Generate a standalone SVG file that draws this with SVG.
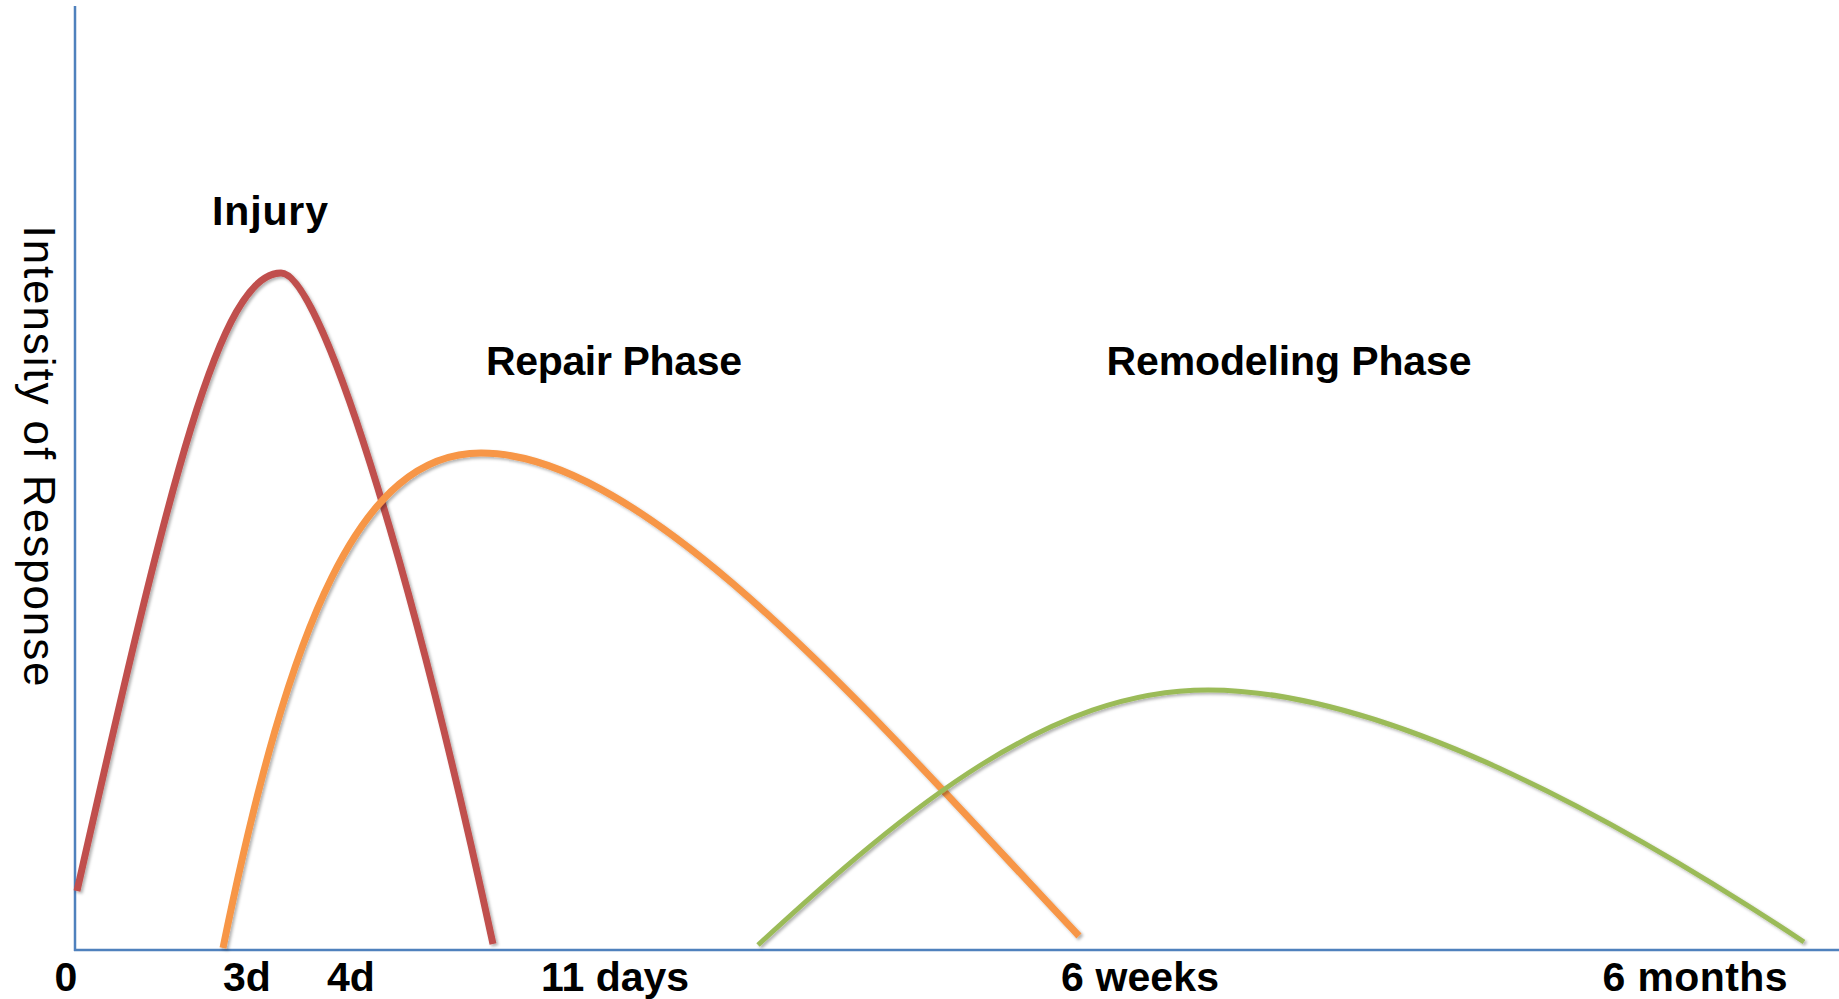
<svg xmlns="http://www.w3.org/2000/svg" width="1839" height="999" viewBox="0 0 1839 999">
<style>
.axis{stroke:#4F81BD;stroke-width:2.5;fill:none}
.curve{fill:none;stroke-linecap:butt;filter:url(#sh)}
.lbl{font-family:"Liberation Sans",Arial,sans-serif;font-weight:bold;font-size:41px;fill:#000}
.ylbl{font-family:"Liberation Sans",Arial,sans-serif;font-size:44px;fill:#000}
</style>
<defs>
<filter id="sh" x="-10%" y="-10%" width="120%" height="120%">
<feDropShadow dx="2" dy="2" stdDeviation="1.5" flood-color="#000" flood-opacity="0.3"/>
</filter>
</defs>
<rect width="1839" height="999" fill="#fff"/>
<g id="axes">
<line class="axis" x1="75" y1="6" x2="75" y2="951"/>
<line class="axis" x1="74" y1="950" x2="1839" y2="950"/>
</g>
<g id="connectors">
<path id="injury-curve" class="curve" stroke="#C0504D" stroke-width="7" d="M77,891 C170,480 220,273 281,273 C320,273 410,560 493,944"/>
<path id="repair-curve" class="curve" stroke="#F79646" stroke-width="7" d="M223,948 C290,620 360,453 481,453 C650,453 880,725 1079,936"/>
<path id="remodel-curve" class="curve" stroke="#9BBB59" stroke-width="5" d="M758,945 C910,805 1050,690 1208,690 C1400,690 1650,840 1804,942"/>
</g>
<g id="label-injury"><text class="lbl" x="270" y="225" text-anchor="middle" textLength="116">Injury</text></g>
<g id="label-repair"><text class="lbl" x="614" y="375" text-anchor="middle" textLength="256">Repair Phase</text></g>
<g id="label-remodel"><text class="lbl" x="1289" y="375" text-anchor="middle" textLength="365">Remodeling Phase</text></g>
<g id="label-y"><text class="ylbl" transform="translate(24,456) rotate(90)" text-anchor="middle" textLength="461">Intensity of Response</text></g>
<g id="ticks">
<text class="lbl" x="66" y="991" text-anchor="middle">0</text>
<text class="lbl" x="247" y="991" text-anchor="middle">3d</text>
<text class="lbl" x="351" y="991" text-anchor="middle">4d</text>
<text class="lbl" x="615" y="991" text-anchor="middle" textLength="148">11 days</text>
<text class="lbl" x="1140" y="991" text-anchor="middle" textLength="158">6 weeks</text>
<text class="lbl" x="1695" y="991" text-anchor="middle" textLength="185">6 months</text>
</g>
</svg>
